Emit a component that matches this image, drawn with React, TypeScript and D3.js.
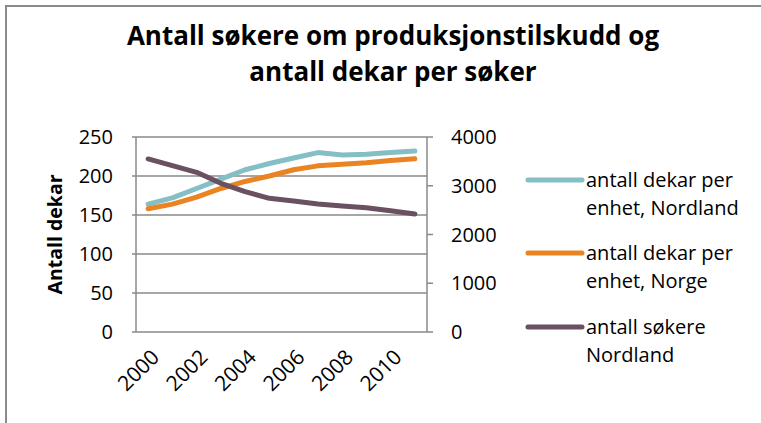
import React from "react";
import * as d3 from "d3";

const years = [2000, 2001, 2002, 2003, 2004, 2005, 2006, 2007, 2008, 2009, 2010, 2011];
const yearLabels = ["2000", "2002", "2004", "2006", "2008", "2010"];
const dekarNordland = [164, 172, 184, 196, 208, 216, 223, 230, 227, 228, 230, 232];
const dekarNorge = [158, 164, 173, 184, 193, 200, 208, 213, 215, 217, 220, 222];
const sokereNordland = [3550, 3412, 3275, 3050, 2879, 2742, 2687, 2626, 2585, 2550, 2489, 2420];
const leftTicks = [0, 50, 100, 150, 200, 250];
const rightTicks = [0, 1000, 2000, 3000, 4000];
const seriesNames = [
  ["antall dekar per", "enhet, Nordland"],
  ["antall dekar per", "enhet, Norge"],
  ["antall søkere", "Nordland"],
];
const colors = ["#84BFC5", "#EA8422", "#6A5060"];

const FONT = "'Open Sans', Lato, sans-serif";

export default function App() {
  const W = 761, H = 423;
  const pl = 136, pr = 427, pt = 137, pb = 332;
  const x = d3.scaleBand<number>().domain(years).range([pl, pr]);
  const cx = (yr: number) => (x(yr) as number) + x.bandwidth() / 2;
  const yL = d3.scaleLinear().domain([0, 250]).range([pb, pt]);
  const yR = d3.scaleLinear().domain([0, 4000]).range([pb, pt]);

  const lineL = d3.line<number>().x((_, i) => cx(years[i])).y((d) => yL(d));
  const lineR = d3.line<number>().x((_, i) => cx(years[i])).y((d) => yR(d));

  const legendY = [180, 253, 327];
  const fs = 20;

  return (
    <svg width={W} height={H} style={{ position: "absolute", left: 0, top: 0, background: "#fff" }} fontFamily={FONT}>
      <rect x={6} y={6} width={W} height={H} fill="#fff" stroke="#8a8a8a" strokeWidth={2} />
      <text x={393} y={45} textAnchor="middle" fontSize={26} fontWeight="bold" fill="#000">
        Antall søkere om produksjonstilskudd og
      </text>
      <text x={393} y={81} textAnchor="middle" fontSize={26} fontWeight="bold" fill="#000">
        antall dekar per søker
      </text>

      {/* gridlines */}
      {leftTicks.map((t) => (
        <line key={t} x1={pl} x2={pr} y1={yL(t)} y2={yL(t)} stroke="#8a8a8a" strokeWidth={1.5} />
      ))}
      <line x1={pl} x2={pl} y1={pt} y2={pb} stroke="#8a8a8a" strokeWidth={1.5} />
      <line x1={pr} x2={pr} y1={pt} y2={pb} stroke="#8a8a8a" strokeWidth={1.5} />
      {leftTicks.map((t) => (
        <line key={"lt" + t} x1={pl - 4} x2={pl} y1={yL(t)} y2={yL(t)} stroke="#8a8a8a" strokeWidth={1.5} />
      ))}
      {rightTicks.map((t) => (
        <line key={"rt" + t} x1={pr} x2={pr + 6} y1={yR(t)} y2={yR(t)} stroke="#8a8a8a" strokeWidth={1.5} />
      ))}

      {/* left labels */}
      {leftTicks.map((t) => (
        <text key={"ll" + t} x={113} y={yL(t)} dy="0.36em" textAnchor="end" fontSize={fs} fill="#000">
          {t}
        </text>
      ))}
      {rightTicks.map((t) => (
        <text key={"rl" + t} x={451} y={yR(t)} dy="0.36em" textAnchor="start" fontSize={fs} fill="#000">
          {t}
        </text>
      ))}
      <text
        transform={`translate(62,${(pt + pb) / 2}) rotate(-90)`}
        textAnchor="middle"
        fontSize={19.5}
        fontWeight="bold"
        fill="#000"
      >
        Antall dekar
      </text>

      {/* x labels */}
      {yearLabels.map((l) => {
        const px = cx(+l) + 2;
        const py = 348;
        return (
          <text
            key={l}
            transform={`translate(${px},${py}) rotate(-45)`}
            textAnchor="end"
            dy="0.7em"
            fontSize={21}
            fill="#000"
          >
            {l}
          </text>
        );
      })}

      {/* series */}
      <path d={lineL(dekarNordland) || ""} fill="none" stroke={colors[0]} strokeWidth={5} strokeLinecap="round" strokeLinejoin="round" />
      <path d={lineL(dekarNorge) || ""} fill="none" stroke={colors[1]} strokeWidth={5} strokeLinecap="round" strokeLinejoin="round" />
      <path d={lineR(sokereNordland) || ""} fill="none" stroke={colors[2]} strokeWidth={5} strokeLinecap="round" strokeLinejoin="round" />

      {/* legend */}
      {seriesNames.map((n, i) => (
        <g key={i}>
          <line x1={528} x2={582} y1={legendY[i]} y2={legendY[i]} stroke={colors[i]} strokeWidth={5} strokeLinecap="round" />
          <text x={586} y={legendY[i] + 7} fontSize={fs} fill="#000">
            {n[0]}
          </text>
          <text x={586} y={legendY[i] + 35} fontSize={fs} fill="#000">
            {n[1]}
          </text>
        </g>
      ))}
    </svg>
  );
}
